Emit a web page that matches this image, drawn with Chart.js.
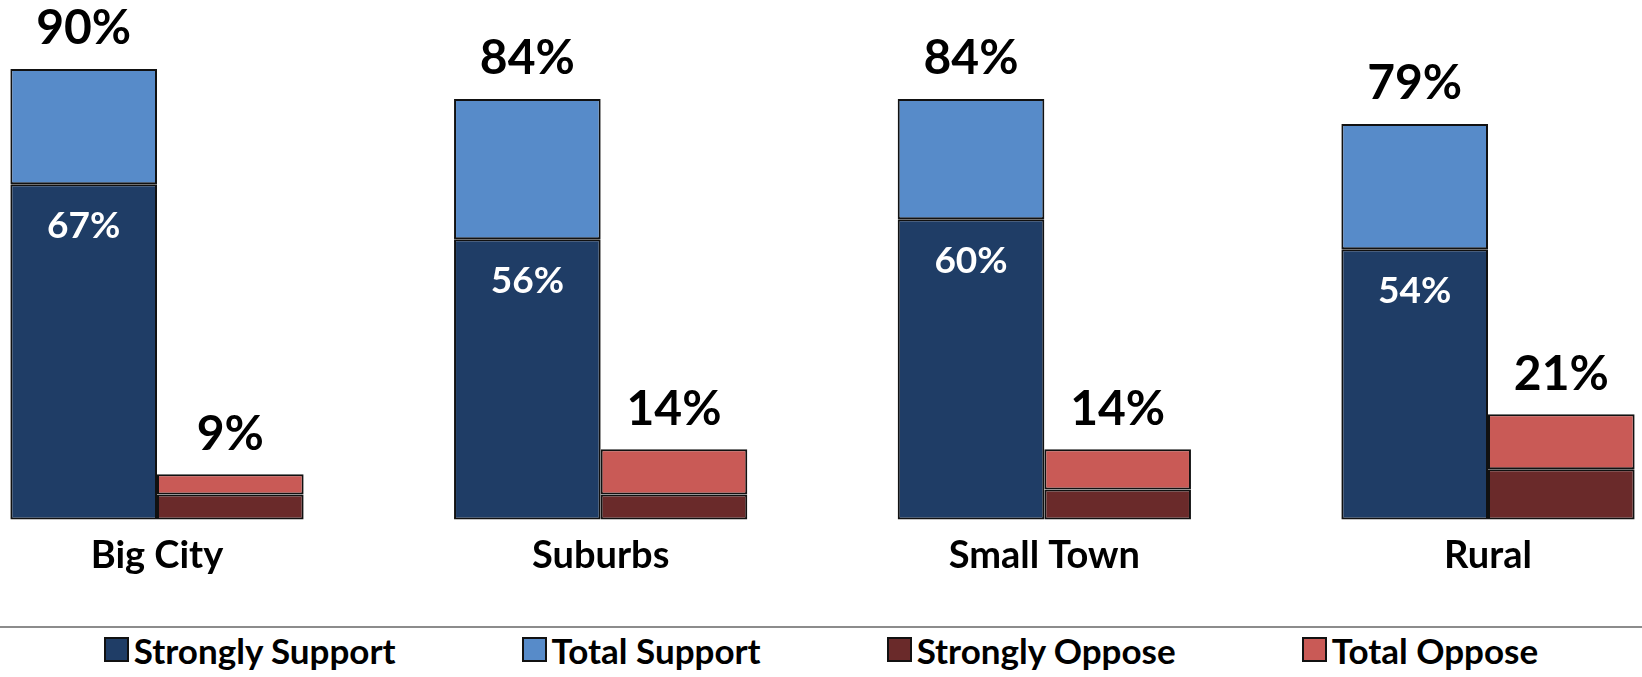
<!DOCTYPE html>
<html>
<head>
<meta charset="utf-8">
<script src="https://cdn.jsdelivr.net/npm/chart.js@4.4.1/dist/chart.umd.min.js"></script>
<style>
  html, body { margin: 0; padding: 0; background: #fff; }
  #wrap { width: 1642px; height: 677px; position: relative; }
  #chart { display: block; }
  #legend {
    border-top: 2px solid #8c8c8c;
    height: 43px;
    padding-bottom: 6px;
    display: flex;
    justify-content: center;
    align-items: center;
    gap: 126px;
    font-family: Lato, "Open Sans", sans-serif;
    font-weight: bold;
    font-size: 35px;
    color: #000;
  }
  .item { display: flex; align-items: center; }
  .box { width: 21px; height: 21px; border: 2px solid #111; margin-right: 5px; }
</style>
</head>
<body>
<div id="wrap">
  <canvas id="chart" width="1642" height="626"></canvas>
  <div id="legend"></div>
</div>
<script>
// values (percent)
var categories = ['Big City', 'Suburbs', 'Small Town', 'Rural'];
var strongSupport = [67, 56, 60, 54];
var totalSupport = [90, 84, 84, 79];
var strongOppose = [5, 5, 6, 10];
var totalOppose = [9, 14, 14, 21];
var seriesNames = ['Strongly Support', 'Total Support', 'Strongly Oppose', 'Total Oppose'];
var seriesColors = ['#1f3d66', '#578bc9', '#6a2a2a', '#c95a56'];

var font = 'Lato, "Open Sans", sans-serif';

// remainder on top of the "strongly" part so the stack reaches the total
var restSupport = totalSupport.map(function (t, i) { return t - strongSupport[i]; });
var restOppose = totalOppose.map(function (t, i) { return t - strongOppose[i]; });

function ds(i, data, stack) {
  return {
    label: seriesNames[i],
    data: data,
    stack: stack,
    backgroundColor: seriesColors[i],
    borderColor: '#111',
    borderWidth: 2,
    borderSkipped: false,
    clip: false
  };
}

var valueLabels = {
  id: 'valueLabels',
  afterDatasetsDraw: function (chart) {
    var ctx = chart.ctx;
    ctx.save();
    ctx.textAlign = 'center';
    ctx.textBaseline = 'middle';
    var topSupport = chart.getDatasetMeta(1).data;
    var topOppose = chart.getDatasetMeta(3).data;
    var strong = chart.getDatasetMeta(0).data;
    ctx.fillStyle = '#000';
    ctx.font = 'bold 48px ' + font;
    categories.forEach(function (c, i) {
      ctx.fillText(totalSupport[i] + '%', topSupport[i].x, topSupport[i].y - 41);
      ctx.fillText(totalOppose[i] + '%', topOppose[i].x, topOppose[i].y - 40);
    });
    ctx.fillStyle = '#fff';
    ctx.font = 'bold 37px ' + font;
    categories.forEach(function (c, i) {
      ctx.fillText(strongSupport[i] + '%', strong[i].x, strong[i].y + 42);
    });
    ctx.restore();
  }
};

var chart = new Chart(document.getElementById('chart').getContext('2d'), {
  type: 'bar',
  data: {
    labels: categories,
    datasets: [
      ds(0, strongSupport, 'support'),
      ds(1, restSupport, 'support'),
      ds(2, strongOppose, 'oppose'),
      ds(3, restOppose, 'oppose')
    ]
  },
  options: {
    responsive: false,
    animation: false,
    categoryPercentage: 0.661,
    barPercentage: 1,
    layout: { padding: { top: 19, left: 157, right: 154, bottom: 33 } },
    plugins: {
      legend: { display: false },
      tooltip: { enabled: false }
    },
    scales: {
      x: {
        stacked: true,
        offset: false,
        grid: { display: false, drawTicks: false },
        border: { display: false },
        ticks: {
          autoSkip: false,
          maxRotation: 0,
          padding: 14,
          color: '#000',
          font: { family: font, size: 38, weight: 'bold' }
        }
      },
      y: {
        stacked: true,
        display: false,
        min: 0,
        max: 100
      }
    }
  },
  plugins: [valueLabels]
});

// legend below the chart, built from the chart's own datasets
var legendEl = document.getElementById('legend');
chart.data.datasets.forEach(function (d) {
  var item = document.createElement('div');
  item.className = 'item';
  var box = document.createElement('span');
  box.className = 'box';
  box.style.background = d.backgroundColor;
  var txt = document.createElement('span');
  txt.textContent = d.label;
  item.appendChild(box);
  item.appendChild(txt);
  legendEl.appendChild(item);
});
</script>
</body>
</html>
